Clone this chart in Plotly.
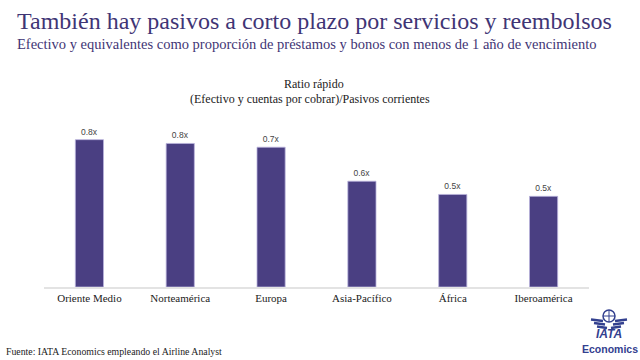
import plotly.graph_objects as go

categories = ["Oriente Medio", "Norteamérica", "Europa", "Asia-Pacífico", "África", "Iberoamérica"]
ratio_values = [0.78, 0.76, 0.74, 0.56, 0.49, 0.48]

TITLE = "También hay pasivos a corto plazo por servicios y reembolsos"
SUBTITLE = "Efectivo y equivalentes como proporción de préstamos y bonos con menos de 1 año de vencimiento"
CHART_TITLE_1 = "Ratio rápido"
CHART_TITLE_2 = "(Efectivo y cuentas por cobrar)/Pasivos corrientes"
SOURCE = "Fuente: IATA Economics empleando el Airline Analyst"

W, H = 640, 360
L, R, T, B = 44, 51, 100, 73
PW, PH = W - L - R, H - T - B

def px(x):
    return (x - L) / PW

def py(y):
    return (H - B - y) / PH

SERIF = "Liberation Serif"
SANS = "Liberation Sans"
PURPLE = "#4a3f82"
TITLE_COL = "#3f3575"
LOGO = "#33408f"

fig = go.Figure(
    go.Bar(
        x=categories,
        y=ratio_values,
        marker=dict(color=PURPLE, line=dict(color="#b9b2dc", width=0.8)),
        texttemplate="%{y:.1f}x",
        textposition="outside",
        textfont=dict(family=SANS, size=8.5, color="#444444"),
        cliponaxis=False,
        width=0.31,
        hoverinfo="skip",
    )
)

fig.update_layout(
    width=W, height=H,
    margin=dict(l=L, r=R, t=T, b=B),
    paper_bgcolor="white", plot_bgcolor="white",
    showlegend=False,
    xaxis=dict(showline=True, linecolor="#e3e3e3", linewidth=1.5, ticks="",
               tickfont=dict(family=SERIF, size=11, color="#222222"), showgrid=False),
    yaxis=dict(range=[0, 0.99], visible=False, showgrid=False, zeroline=False),
)

ann = [
    dict(text=TITLE, x=px(15), y=py(21), font=dict(family=SERIF, size=24, color=TITLE_COL)),
    dict(text=SUBTITLE, x=px(15), y=py(44.5), font=dict(family=SERIF, size=14.5, color=TITLE_COL)),
    dict(text=SOURCE, x=px(4), y=py(351), font=dict(family=SERIF, size=9.8, color="#222222")),
]
for a in ann:
    a.update(xref="paper", yref="paper", xanchor="left", yanchor="middle", showarrow=False)
    fig.add_annotation(**a)

for txt, xx, yy in [(CHART_TITLE_1, 314, 84), (CHART_TITLE_2, 309.5, 98.5)]:
    fig.add_annotation(text=txt, x=px(xx), y=py(yy), xref="paper", yref="paper",
                       xanchor="center", yanchor="middle", showarrow=False,
                       font=dict(family=SERIF, size=12, color="#222222"))

# IATA logo (decorative)
fig.add_shape(type="circle", xref="paper", yref="paper",
              x0=px(603), x1=px(615), y0=py(322), y1=py(310),
              line=dict(color=LOGO, width=1.5), fillcolor="white")
fig.add_shape(type="line", xref="paper", yref="paper", x0=px(609), x1=px(609),
              y0=py(310), y1=py(322), line=dict(color=LOGO, width=1))
fig.add_shape(type="line", xref="paper", yref="paper", x0=px(603), x1=px(615),
              y0=py(316), y1=py(316), line=dict(color=LOGO, width=1))
for yy, x_in, x_out in [(321, 603, 591), (324.5, 605, 594), (328, 607, 597)]:
    fig.add_shape(type="line", xref="paper", yref="paper", x0=px(x_in), x1=px(x_out),
                  y0=py(yy), y1=py(yy - 1.5), line=dict(color=LOGO, width=2.5))
    fig.add_shape(type="line", xref="paper", yref="paper", x0=px(1218 - x_in), x1=px(1218 - x_out),
                  y0=py(yy), y1=py(yy - 1.5), line=dict(color=LOGO, width=2.5))
fig.add_annotation(text="<b><i>IATA</i></b>", x=px(609), y=py(334), xref="paper", yref="paper",
                   xanchor="center", yanchor="middle", showarrow=False,
                   font=dict(family=SANS, size=12, color=LOGO))
fig.add_annotation(text="<b>Economics</b>", x=px(610), y=py(349), xref="paper", yref="paper",
                   xanchor="center", yanchor="middle", showarrow=False,
                   font=dict(family=SANS, size=10.5, color=LOGO))

fig.write_html("out.html", config={"displayModeBar": False},
               post_script="document.body.style.margin='0';")
